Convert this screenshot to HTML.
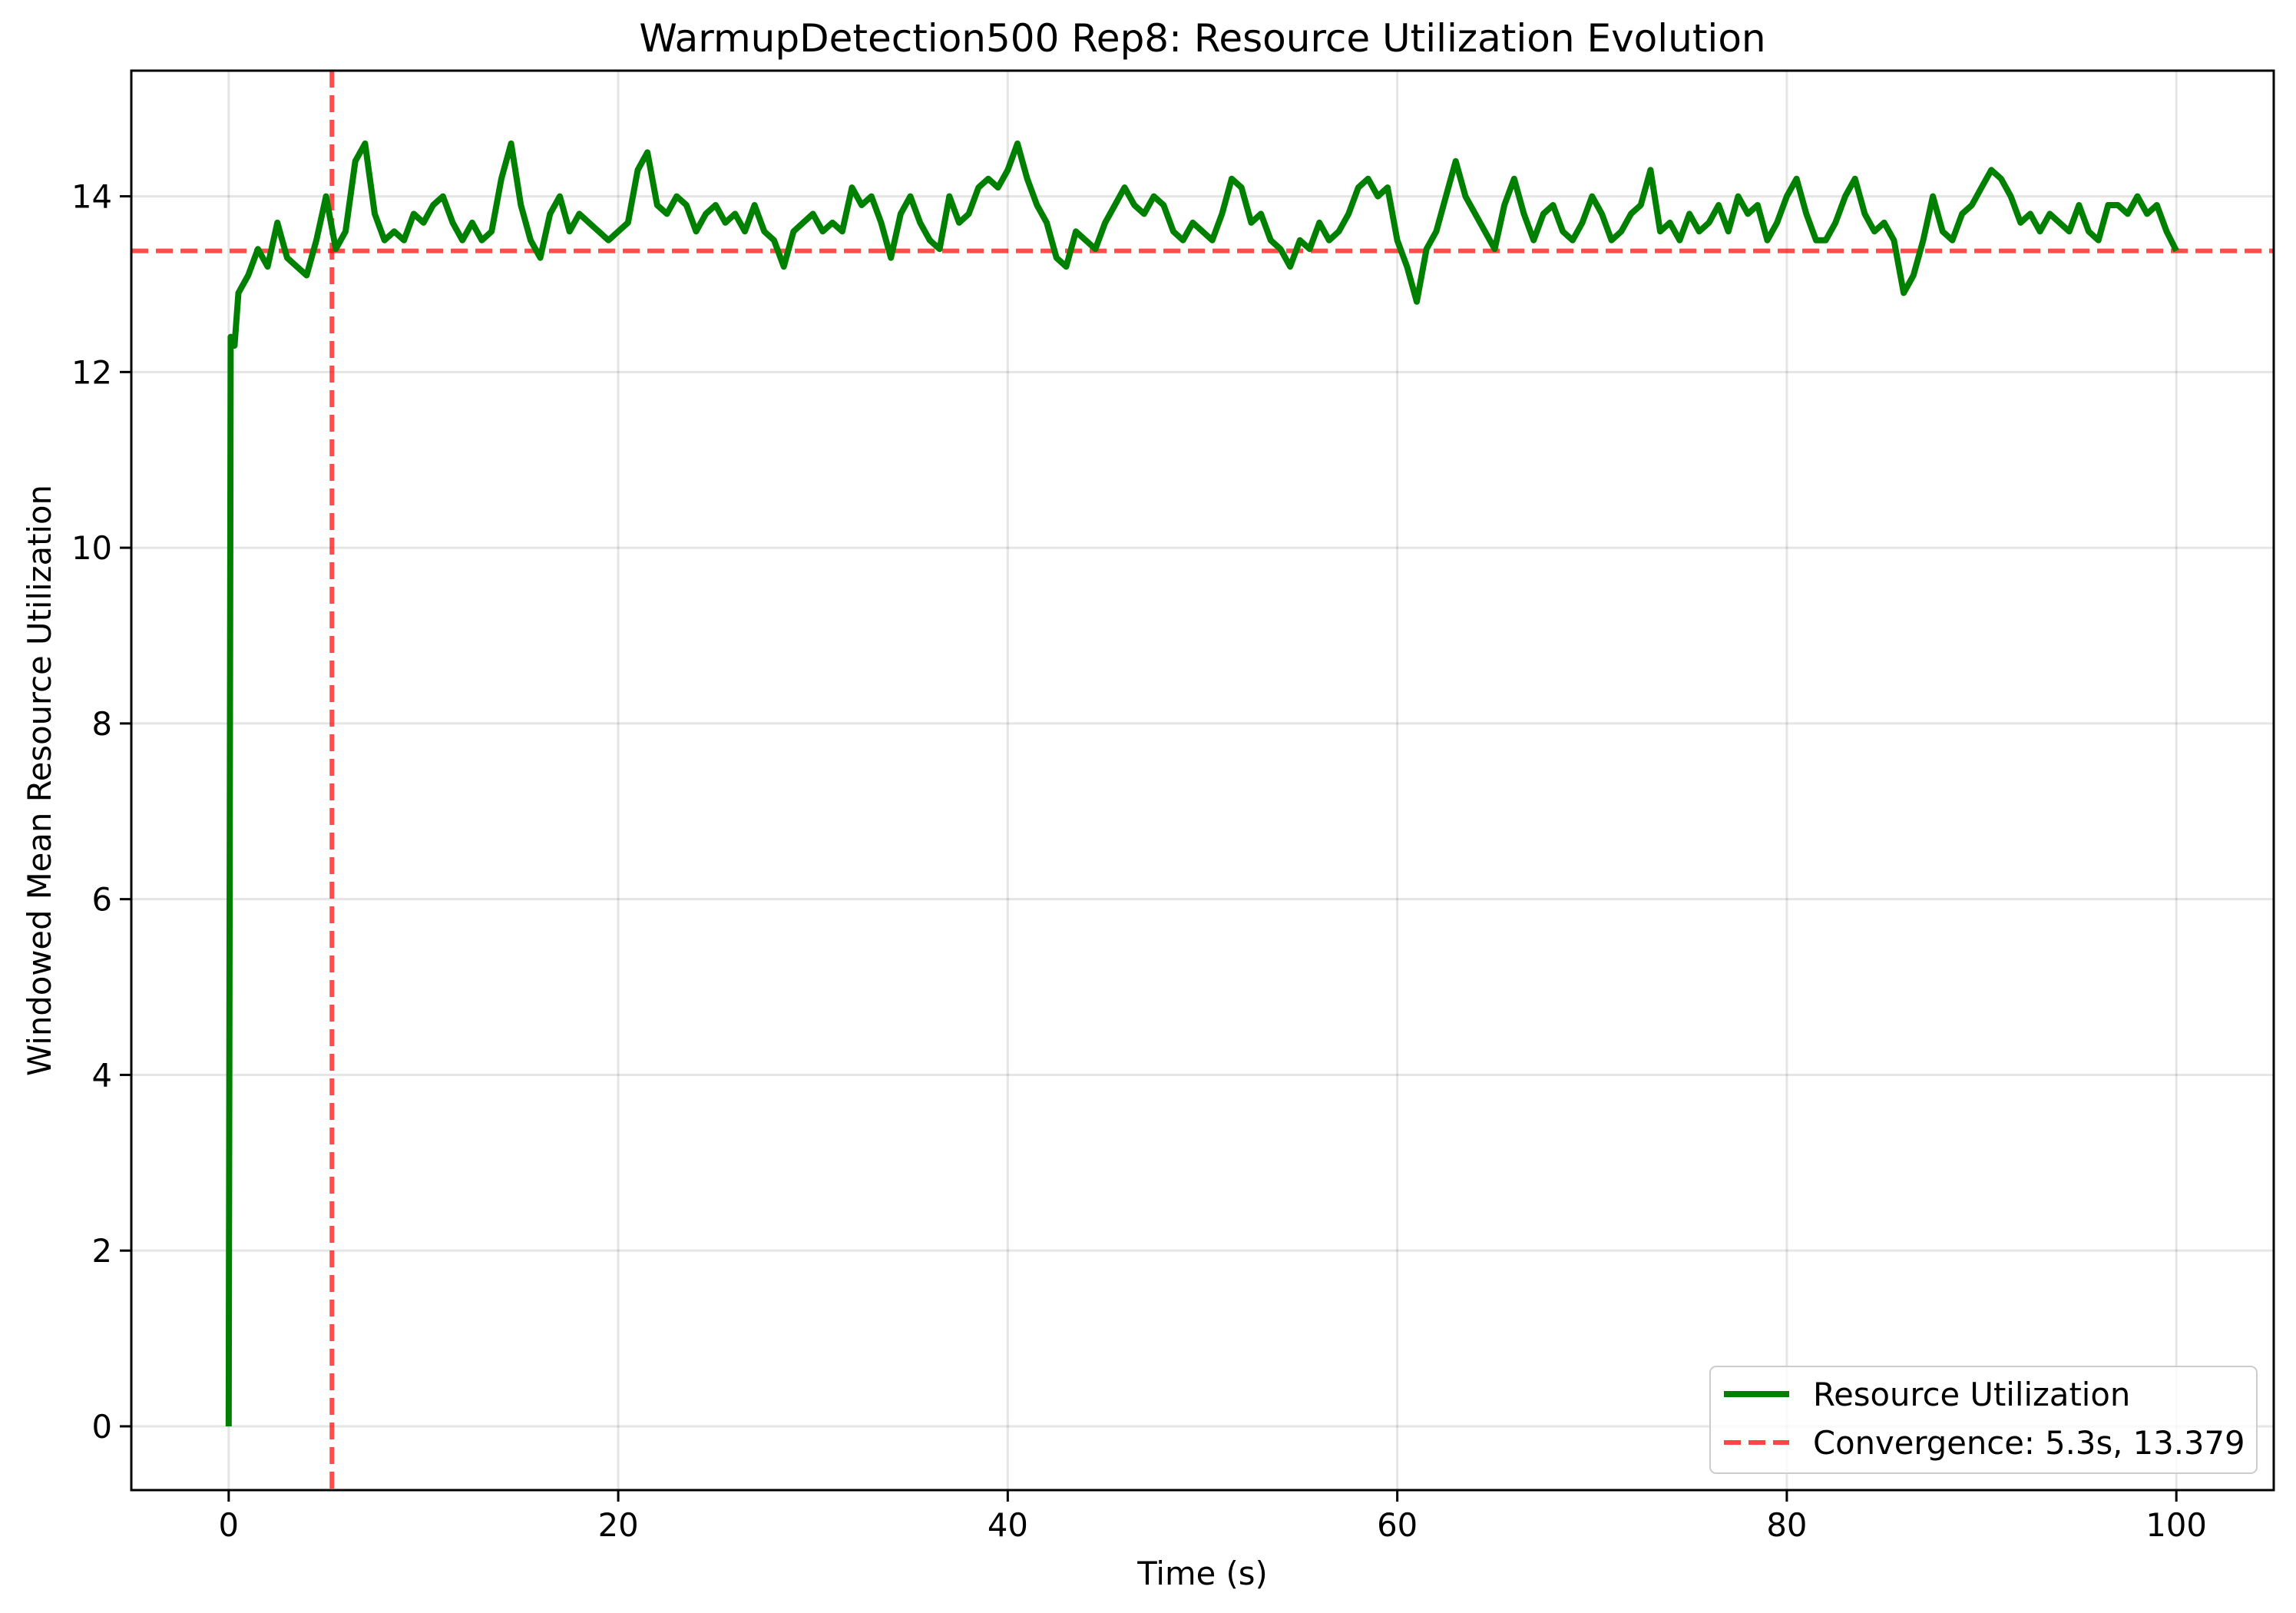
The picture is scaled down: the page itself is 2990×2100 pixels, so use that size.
<!DOCTYPE html>
<html><head><meta charset="utf-8"><style>
html,body{margin:0;padding:0;background:#fff;}
svg{display:block;font-family:"DejaVu Sans","Liberation Sans",sans-serif;}
</style></head><body>
<svg id="chart" width="2990" height="2100" viewBox="0 0 2990 2100" xmlns="http://www.w3.org/2000/svg">
<rect x="0" y="0" width="2990" height="2100" fill="#fff"/>
<g id="grid"></g>
<g id="refs"></g>
<g id="series"></g>
<rect x="171" y="92" width="2790" height="1848" fill="none" stroke="#000" stroke-width="3"/>
<g id="ticks"></g>
<text x="1566" y="67" text-anchor="middle" font-size="50">WarmupDetection500 Rep8: Resource Utilization Evolution</text>
<text x="1566" y="2063" text-anchor="middle" font-size="41.7">Time (s)</text>
<text x="66" y="1016" text-anchor="middle" font-size="41.7" transform="rotate(-90 66 1016)">Windowed Mean Resource Utilization</text>
<g>
<rect x="2227" y="1779" width="712" height="139" rx="8" fill="#fff" fill-opacity="0.8" stroke="#ccc" stroke-width="2"/>
<line x1="2245" y1="1815" x2="2330" y2="1815" stroke="#008000" stroke-width="8"/>
<text x="2361" y="1830" font-size="41.7">Resource Utilization</text>
<line x1="2245" y1="1878" x2="2330" y2="1878" stroke="#ff4444" stroke-width="6" stroke-dasharray="22 10"/>
<text x="2361" y="1893" font-size="41.7">Convergence: 5.3s, 13.379</text>
</g>
</svg>
<script>
const times = [0,0.1,0.3,0.5,1,1.5,2,2.5,3,3.5,4,4.5,5,5.5,6,6.5,7,7.5,8,8.5,9,9.5,10,10.5,11,11.5,12,12.5,13,13.5,14,14.5,15,15.5,16,16.5,17,17.5,18,18.5,19,19.5,20,20.5,21,21.5,22,22.5,23,23.5,24,24.5,25,25.5,26,26.5,27,27.5,28,28.5,29,29.5,30,30.5,31,31.5,32,32.5,33,33.5,34,34.5,35,35.5,36,36.5,37,37.5,38,38.5,39,39.5,40,40.5,41,41.5,42,42.5,43,43.5,44,44.5,45,45.5,46,46.5,47,47.5,48,48.5,49,49.5,50,50.5,51,51.5,52,52.5,53,53.5,54,54.5,55,55.5,56,56.5,57,57.5,58,58.5,59,59.5,60,60.5,61,61.5,62,62.5,63,63.5,64,64.5,65,65.5,66,66.5,67,67.5,68,68.5,69,69.5,70,70.5,71,71.5,72,72.5,73,73.5,74,74.5,75,75.5,76,76.5,77,77.5,78,78.5,79,79.5,80,80.5,81,81.5,82,82.5,83,83.5,84,84.5,85,85.5,86,86.5,87,87.5,88,88.5,89,89.5,90,90.5,91,91.5,92,92.5,93,93.5,94,94.5,95,95.5,96,96.5,97,97.5,98,98.5,99,99.5,100];
const utilization = [0,12.4,12.3,12.9,13.1,13.4,13.2,13.7,13.3,13.2,13.1,13.5,14.0,13.4,13.6,14.4,14.6,13.8,13.5,13.6,13.5,13.8,13.7,13.9,14.0,13.7,13.5,13.7,13.5,13.6,14.2,14.6,13.9,13.5,13.3,13.8,14.0,13.6,13.8,13.7,13.6,13.5,13.6,13.7,14.3,14.5,13.9,13.8,14.0,13.9,13.6,13.8,13.9,13.7,13.8,13.6,13.9,13.6,13.5,13.2,13.6,13.7,13.8,13.6,13.7,13.6,14.1,13.9,14.0,13.7,13.3,13.8,14.0,13.7,13.5,13.4,14.0,13.7,13.8,14.1,14.2,14.1,14.3,14.6,14.2,13.9,13.7,13.3,13.2,13.6,13.5,13.4,13.7,13.9,14.1,13.9,13.8,14.0,13.9,13.6,13.5,13.7,13.6,13.5,13.8,14.2,14.1,13.7,13.8,13.5,13.4,13.2,13.5,13.4,13.7,13.5,13.6,13.8,14.1,14.2,14.0,14.1,13.5,13.2,12.8,13.4,13.6,14.0,14.4,14.0,13.8,13.6,13.4,13.9,14.2,13.8,13.5,13.8,13.9,13.6,13.5,13.7,14.0,13.8,13.5,13.6,13.8,13.9,14.3,13.6,13.7,13.5,13.8,13.6,13.7,13.9,13.6,14.0,13.8,13.9,13.5,13.7,14.0,14.2,13.8,13.5,13.5,13.7,14.0,14.2,13.8,13.6,13.7,13.5,12.9,13.1,13.5,14.0,13.6,13.5,13.8,13.9,14.1,14.3,14.2,14.0,13.7,13.8,13.6,13.8,13.7,13.6,13.9,13.6,13.5,13.9,13.9,13.8,14.0,13.8,13.9,13.6,13.38];
const xTicks = [0,20,40,60,80,100];
const yTicks = [0,2,4,6,8,10,12,14];
const convergenceTime = [5.3];
const convergenceValue = [13.379];

const NS='http://www.w3.org/2000/svg';
const L=171,R=2961,T=92,B=1940;
const xMin=-5,xMax=105,yMin=-0.726,yMax=15.43;
function xs(v){return L+(v-xMin)/(xMax-xMin)*(R-L);}
function ys(v){return B-(v-yMin)/(yMax-yMin)*(B-T);}
function mk(tag,attrs,parent){const e=document.createElementNS(NS,tag);for(const k in attrs)e.setAttribute(k,attrs[k]);parent.appendChild(e);return e;}
const grid=document.getElementById('grid'),ticks=document.getElementById('ticks');
xTicks.forEach(v=>{
  const g=mk('line',{x1:xs(v),x2:xs(v),y1:T,y2:B,stroke:'#000','stroke-opacity':0.1,'stroke-width':3},grid);
  
  
  const t=mk('line',{x1:xs(v),x2:xs(v),y1:B,y2:B+15,stroke:'#000','stroke-width':3},ticks);
  
  
  const l=mk('text',{x:xs(v),y:B+60,'text-anchor':'middle','font-size':41.7},ticks);
  l.textContent=v;
  
  
});
yTicks.forEach(v=>{
  const g=mk('line',{x1:L,x2:R,y1:ys(v),y2:ys(v),stroke:'#000','stroke-opacity':0.1,'stroke-width':3},grid);
  
  
  const t=mk('line',{x1:L-15,x2:L,y1:ys(v),y2:ys(v),stroke:'#000','stroke-width':3},ticks);
  
  
  const l=mk('text',{x:L-25,y:ys(v)+15,'text-anchor':'end','font-size':41.7},ticks);
  l.textContent=v;
  
  
});
const series=document.getElementById('series');
const pts=times.map((t,i)=>xs(t).toFixed(1)+','+ys(utilization[i]).toFixed(1)).join(' ');
const pl=mk('polyline',{points:pts,fill:'none',stroke:'#008000','stroke-width':8,'stroke-linejoin':'round'},series);


const refs=document.getElementById('refs');
const hl=mk('line',{x1:L,x2:R,y1:ys(convergenceValue[0]),y2:ys(convergenceValue[0]),stroke:'#ff0000','stroke-opacity':0.7,'stroke-width':6,'stroke-dasharray':'22 10'},refs);


const vl=mk('line',{x1:xs(convergenceTime[0]),x2:xs(convergenceTime[0]),y1:T,y2:B,stroke:'#ff0000','stroke-opacity':0.7,'stroke-width':6,'stroke-dasharray':'22 10'},refs);


</script>
</body></html>
